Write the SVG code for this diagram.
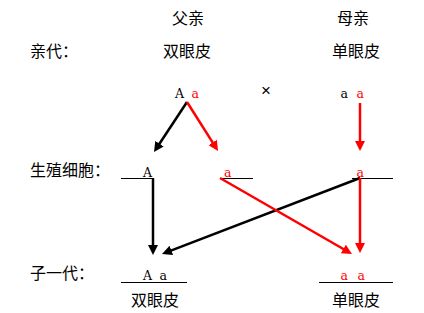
<svg xmlns="http://www.w3.org/2000/svg" width="424" height="313" viewBox="0 0 424 313">
<style>
.cjk{font-family:"Noto Sans CJK SC","Noto Sans",sans-serif;font-size:16px;fill:#000}
.gen{font-family:"DejaVu Serif","Liberation Serif",serif;font-size:12.5px}
.k{fill:#000}
.r{fill:#ff0000}
.ul{stroke:#000;stroke-width:1;fill:none}
.ab{stroke:#000;stroke-width:2.5;fill:none}
.ar{stroke:#ff0000;stroke-width:2.5;fill:none}
</style>
<defs>
<marker id="hb" viewBox="0 0 10 10" refX="4" refY="5" markerWidth="10" markerHeight="10" markerUnits="userSpaceOnUse" orient="auto"><path d="M0,0 L10,5 L0,10 z" fill="#000"/></marker>
<marker id="hr" viewBox="0 0 10 10" refX="4" refY="5" markerWidth="10" markerHeight="10" markerUnits="userSpaceOnUse" orient="auto"><path d="M0,0 L10,5 L0,10 z" fill="#ff0000"/></marker>
</defs>
<rect width="424" height="313" fill="#fff"/>
<g id="row-labels">
<text class="cjk" x="30" y="57">亲代：</text>
<text class="cjk" x="30" y="176">生殖细胞：</text>
<text class="cjk" x="30" y="279">子一代：</text>
</g>
<g id="father">
<text class="cjk" x="172" y="24">父亲</text>
<text class="cjk" x="163" y="57">双眼皮</text>
<text class="gen k" x="175" y="98">A</text>
<text class="gen r" x="191.5" y="98">a</text>
</g>
<g id="cross">
<text x="261" y="96" style="font-family:'Liberation Sans',sans-serif;font-size:17px;font-weight:300;fill:#000">×</text>
</g>
<g id="mother">
<text class="cjk" x="337" y="24">母亲</text>
<text class="cjk" x="332" y="57">单眼皮</text>
<text class="gen k" x="340.5" y="98">a</text>
<text class="gen r" x="356.5" y="98">a</text>
</g>
<g id="gamete-A">
<text class="gen k" x="143" y="177">A</text>
<line class="ul" x1="121" y1="178.5" x2="153" y2="178.5"/>
</g>
<g id="gamete-a-father">
<text class="gen r" x="224" y="177">a</text>
<line class="ul" x1="220" y1="178.5" x2="253" y2="178.5"/>
</g>
<g id="gamete-a-mother">
<text class="gen r" x="356.5" y="177">a</text>
<line class="ul" x1="352" y1="178.5" x2="393" y2="178.5"/>
</g>
<g id="offspring-Aa">
<text class="gen k" x="143" y="280">A</text>
<text class="gen k" x="159.5" y="280">a</text>
<line class="ul" x1="121" y1="282.5" x2="187" y2="282.5"/>
<text class="cjk" x="131" y="306">双眼皮</text>
</g>
<g id="offspring-aa">
<text class="gen r" x="340.5" y="280">a</text>
<text class="gen r" x="357.5" y="280">a</text>
<line class="ul" x1="319" y1="282.5" x2="393" y2="282.5"/>
<text class="cjk" x="332" y="306">单眼皮</text>
</g>
<g id="connectors">
<line class="ab" x1="187" y1="102" x2="157.3" y2="147" marker-end="url(#hb)"/>
<line class="ar" x1="187" y1="102" x2="214.8" y2="145.9" marker-end="url(#hr)"/>
<line class="ar" x1="360" y1="103" x2="360" y2="145" marker-end="url(#hr)"/>
<line class="ab" x1="153" y1="178" x2="153" y2="249" marker-end="url(#hb)"/>
<line class="ab" x1="360" y1="178" x2="167.6" y2="251.85" marker-end="url(#hb)"/>
<line class="ar" x1="220" y1="178" x2="346.8" y2="251" marker-end="url(#hr)"/>
<line class="ar" x1="360" y1="178" x2="360" y2="247" marker-end="url(#hr)"/>
</g>
</svg>
